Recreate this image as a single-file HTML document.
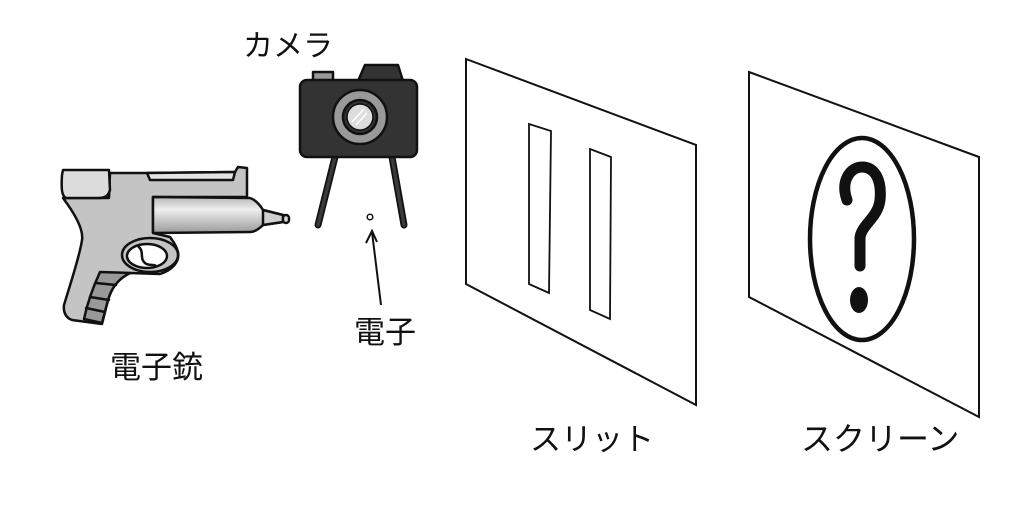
<!DOCTYPE html>
<html><head><meta charset="utf-8"><style>
html,body{margin:0;padding:0;background:#fff;width:1024px;height:512px;overflow:hidden}
svg{display:block}
text{font-family:"Liberation Sans","Noto Sans CJK JP",sans-serif;fill:#111}
</style></head><body>
<svg width="1024" height="512" viewBox="0 0 1024 512">
<defs>
<linearGradient id="bar" x1="0" y1="0" x2="0" y2="1">
<stop offset="0" stop-color="#b8b8b8"/><stop offset="0.35" stop-color="#eeeeee"/><stop offset="1" stop-color="#9a9a9a"/>
</linearGradient>
</defs>
<!-- Gun -->
<g stroke="#111" stroke-width="2.5" stroke-linejoin="round" stroke-linecap="round">
<path d="M63,198 C72,210 84,228 82,240 C80,255 70,285 64,305 C63,312 66,318 72,320 L102,324 L108,300 C111,290 116,280 130,273 L160,274 C172,270 180,262 178,252 C176,244 172,240 170,237 L153,233 L153,197 L247,197 L247,168 L238,167 L235,172 L147,173 L110,173 L109,198 Z" fill="#c4c4c4"/>
<path d="M63,170 L109,170 L110,190 C108,197 104,198 98,198 L66,198 C62,196 61,190 62,175 Z" fill="#dcdcdc"/>
<path d="M147,173 L235,172 L233,180 L150,180 Z" fill="#e4e4e4"/>
<path d="M153,197 L250,198 C256,200 260,205 263,210 L283,215 L283,222 L263,225 C258,230 254,232 250,232 L153,233 Z" fill="url(#bar)"/>
<path d="M263,210 L283,215 L283,222 L263,225 Z" fill="#cfcfcf"/>
<rect x="283" y="215" width="6" height="8" rx="3" fill="#ddd"/>
<ellipse cx="150" cy="255" rx="28" ry="17" fill="#c4c4c4"/>
<ellipse cx="147" cy="256" rx="20" ry="12" fill="#fff"/>
<path d="M138,246 C145,252 139,258 145,263 C148,266 153,264 156,266" fill="none"/>
<path d="M100,272 L130,273 C116,280 111,290 108,300 L102,323 L84,319 C88,300 94,285 100,272 Z" fill="#999"/>
<path d="M96,283 L116,285 M90,297 L109,300 M86,308 L105,312" fill="none"/>
</g>
<!-- Camera -->
<g stroke="#111" stroke-width="2.5" stroke-linejoin="round">
<path d="M335,157 L318,225" stroke="#111" stroke-width="7" stroke-linecap="round"/>
<path d="M335,157 L318,225" stroke="#3a3a3a" stroke-width="3.5" stroke-linecap="round"/>
<path d="M392,157 L404,225" stroke="#111" stroke-width="7" stroke-linecap="round"/>
<path d="M392,157 L404,225" stroke="#3a3a3a" stroke-width="3.5" stroke-linecap="round"/>
<rect x="313" y="72" width="20" height="10" fill="#999"/>
<path d="M358,81 L365,65 L398,65 L403,81 Z" fill="#333"/>
<rect x="300" y="80" width="117" height="77" rx="7" fill="#333"/>
<circle cx="360" cy="117" r="27" fill="#999"/>
<circle cx="360" cy="117" r="17" fill="#333"/>
<circle cx="360" cy="117" r="13" fill="#ddd" stroke-width="1.5"/>
<path d="M352,122 L364,109 M356,125 L367,113" stroke="#fff" stroke-width="1.5"/>
</g>
<!-- electron -->
<circle cx="370" cy="217" r="2.8" fill="#fff" stroke="#111" stroke-width="1.5"/>
<path d="M381,305 L372,232 M366,243 L372,231 L377,242" fill="none" stroke="#111" stroke-width="2"/>
<!-- Slit panel -->
<g fill="none" stroke="#111" stroke-width="2">
<path d="M466,59 L696,145 L696,405 L466,284 Z"/>
<path d="M529,124 L551,131 L549,293 L529,284 Z" stroke-width="1.8"/>
<path d="M590,149 L611,157 L610,319 L590,310 Z" stroke-width="1.8"/>
<path d="M749,72 L979,157 L979,417 L749,297 Z"/>
<ellipse cx="862" cy="239" rx="52" ry="101" stroke-width="4.5"/>
<path d="M847,200 C840,180 851,167 862,167 C875,167 882,180 880,200 C878,218 861,225 860,238 L860,266" stroke-width="11" stroke-linecap="round"/>
</g>
<ellipse cx="859" cy="300" rx="9" ry="13" fill="#111"/>
<!-- Labels -->
<text x="243" y="56" font-size="30">カメラ</text>
<text x="354" y="343" font-size="31">電子</text>
<text x="110" y="378" font-size="31">電子銃</text>
<text x="530" y="450" font-size="31">スリット</text>
<text x="801" y="450" font-size="32">スクリーン</text>
</svg>
</body></html>
